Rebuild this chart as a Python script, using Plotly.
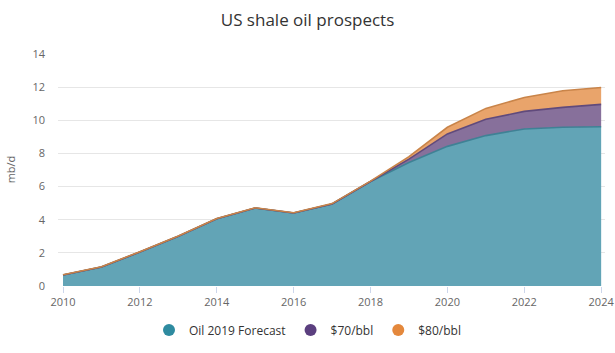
import plotly.graph_objects as go

years = list(range(2010, 2025))
forecast = [0.66, 1.14, 2.05, 3.0, 4.05, 4.7, 4.4, 4.95, 6.3, 7.45, 8.42, 9.07, 9.47, 9.57, 9.6]
total70 = [0.66, 1.14, 2.05, 3.0, 4.05, 4.7, 4.4, 4.95, 6.3, 7.65, 9.17, 10.05, 10.53, 10.77, 10.95]
total80 = [0.68, 1.16, 2.07, 3.02, 4.07, 4.72, 4.42, 4.97, 6.32, 7.8, 9.57, 10.71, 11.37, 11.77, 11.97]

names = ["Oil 2019 Forecast", "$70/bbl", "$80/bbl"]
legend_colors = ["#2e8ba0", "#5b3f7f", "#e4883c"]
fill_colors = ["#62a4b6", "#87709b", "#e9a46b"]
line_colors = ["#3f8195", "#604a7c", "#c98449"]
series = [forecast, total70, total80]

fig = go.Figure()
for i, (nm, ys) in enumerate(zip(names, series)):
    fig.add_trace(go.Scatter(
        x=years, y=ys, mode="lines",
        line=dict(color=line_colors[i], width=1.6),
        fill="tozeroy" if i == 0 else "tonexty",
        fillcolor=fill_colors[i],
        showlegend=False, hoverinfo="skip", name=nm,
    ))
for i, nm in enumerate(names):
    fig.add_trace(go.Scatter(
        x=[None], y=[None], mode="markers", name=nm,
        marker=dict(color=legend_colors[i], size=12, symbol="circle"),
    ))

fig.update_layout(
    width=615, height=353,
    margin=dict(l=58, r=10, t=53, b=67, autoexpand=False),
    paper_bgcolor="white", plot_bgcolor="white",
    font=dict(family="Open Sans, sans-serif", color="#666666", size=11),
    title=dict(text="US shale oil prospects", x=0.5, xanchor="center",
               y=1 - 20 / 353, yanchor="middle",
               font=dict(size=17, color="#333333")),
    showlegend=True,
    legend=dict(orientation="h", xref="container", yref="container",
                x=0.5, xanchor="center", y=1 - 330 / 353, yanchor="middle",
                traceorder="normal",
                font=dict(size=12, color="#333333"),
                itemsizing="constant", tracegroupgap=0),
    xaxis=dict(range=[2009.87, 2024.1], tickmode="array",
               tickvals=list(range(2010, 2025, 2)),
               ticktext=[str(y) for y in range(2010, 2025, 2)],
               showgrid=False, zeroline=False, automargin=False,
               ticks="outside", ticklen=6, tickcolor="#ccd6eb",
               showline=False, tickfont=dict(size=11, color="#666666")),
    yaxis=dict(range=[0, 14.05], tickvals=list(range(0, 15, 2)),
               showgrid=True, gridcolor="#e6e6e6", gridwidth=1,
               zeroline=False, ticks="", ticklabelstandoff=12, automargin=False,
               title=dict(text="mb/d", font=dict(size=11, color="#666666"),
                          standoff=14),
               tickfont=dict(size=11, color="#666666")),
)

fig.write_html("out.html")
